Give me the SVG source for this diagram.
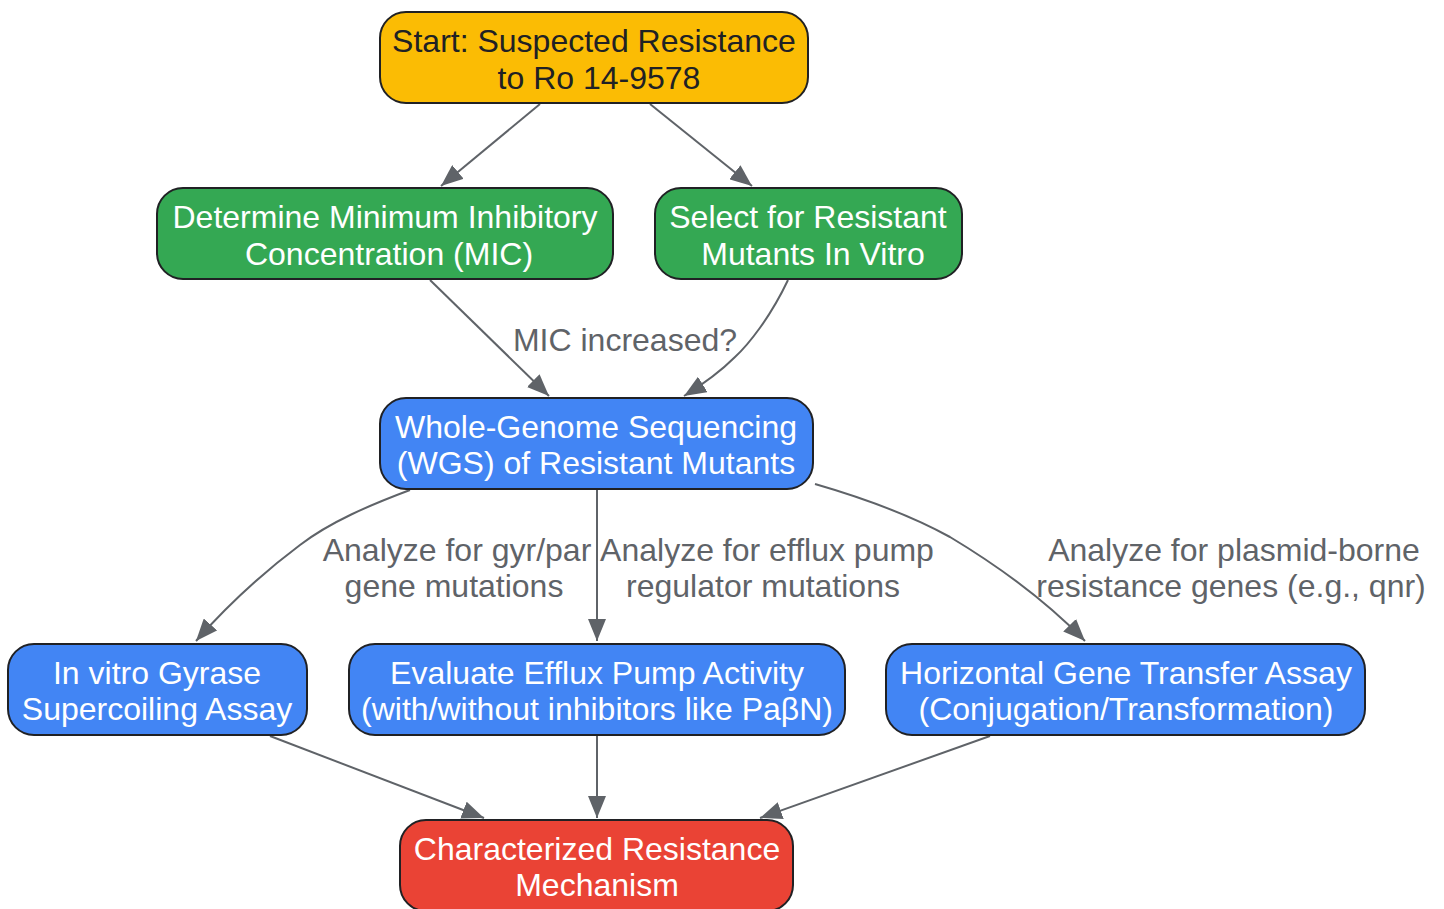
<svg xmlns="http://www.w3.org/2000/svg" width="1444" height="909" viewBox="0 0 1444 909">
<style>
.n{stroke:#202124;stroke-width:2}
.t{font-family:"Liberation Sans",Arial,sans-serif;font-size:32px;text-anchor:middle;fill:#ffffff}
.d{fill:#202124}
.l{font-family:"Liberation Sans",Arial,sans-serif;font-size:32px;text-anchor:middle;fill:#5f6368}
.e{fill:none;stroke:#5f6368;stroke-width:2;marker-end:url(#a)}
</style>
<defs>
<marker id="a" markerUnits="userSpaceOnUse" markerWidth="23" markerHeight="18" refX="22" refY="9" orient="auto">
<path d="M0,0 L22,9 L0,18 z" fill="#5f6368"/>
</marker>
</defs>
<rect width="1444" height="909" fill="#ffffff"/>
<g id="edges">
<path class="e" d="M540,104 L441,186"/>
<path class="e" d="M650,104 L752,186"/>
<path class="e" d="M430,280 L549,396"/>
<path class="e" d="M788,280 C770,318 748,345 735,357 C722,370 705,383 684,396"/>
<path class="e" d="M410,490 C370,505 330,522 300,545 C260,575 225,608 196,641"/>
<path class="e" d="M597,490 L597,641"/>
<path class="e" d="M815,484 C860,497 910,515 950,537 C1000,567 1045,600 1085,641"/>
<path class="e" d="M270,736 L484,818"/>
<path class="e" d="M597,736 L597,818"/>
<path class="e" d="M990,736 L760,818"/>
<text class="l" x="625" y="351">MIC increased?</text>
<text class="l" x="457" y="561">Analyze for gyr/par</text>
<text class="l" x="454" y="597">gene mutations</text>
<text class="l" x="767" y="561">Analyze for efflux pump</text>
<text class="l" x="763" y="597">regulator mutations</text>
<text class="l" x="1234" y="561">Analyze for plasmid-borne</text>
<text class="l" x="1231" y="597">resistance genes (e.g., qnr)</text>
</g>
<g id="start">
<rect class="n" x="380" y="12" width="428" height="91" rx="26" fill="#fbbc04"/>
<text class="t d" x="594" y="52">Start: Suspected Resistance</text>
<text class="t d" x="599" y="89">to Ro 14-9578</text>
</g>
<g id="mic">
<rect class="n" x="157" y="188" width="456" height="91" rx="26" fill="#34a853"/>
<text class="t" x="385" y="228">Determine Minimum Inhibitory</text>
<text class="t" x="389" y="265">Concentration (MIC)</text>
</g>
<g id="select">
<rect class="n" x="655" y="188" width="307" height="91" rx="26" fill="#34a853"/>
<text class="t" x="808" y="228">Select for Resistant</text>
<text class="t" x="813" y="265">Mutants In Vitro</text>
</g>
<g id="wgs">
<rect class="n" x="380" y="398" width="433" height="91" rx="26" fill="#4285f4"/>
<text class="t" x="596" y="438">Whole-Genome Sequencing</text>
<text class="t" x="596" y="474">(WGS) of Resistant Mutants</text>
</g>
<g id="gyrase">
<rect class="n" x="8" y="644" width="299" height="91" rx="26" fill="#4285f4"/>
<text class="t" x="157" y="684">In vitro Gyrase</text>
<text class="t" x="157" y="720">Supercoiling Assay</text>
</g>
<g id="efflux">
<rect class="n" x="349" y="644" width="496" height="91" rx="26" fill="#4285f4"/>
<text class="t" x="597" y="684">Evaluate Efflux Pump Activity</text>
<text class="t" x="597" y="720">(with/without inhibitors like PaβN)</text>
</g>
<g id="hgt">
<rect class="n" x="886" y="644" width="479" height="91" rx="26" fill="#4285f4"/>
<text class="t" x="1126" y="684">Horizontal Gene Transfer Assay</text>
<text class="t" x="1126" y="720">(Conjugation/Transformation)</text>
</g>
<g id="result">
<rect class="n" x="400" y="820" width="393" height="91" rx="26" fill="#ea4335"/>
<text class="t" x="597" y="860">Characterized Resistance</text>
<text class="t" x="597" y="896">Mechanism</text>
</g>
</svg>
